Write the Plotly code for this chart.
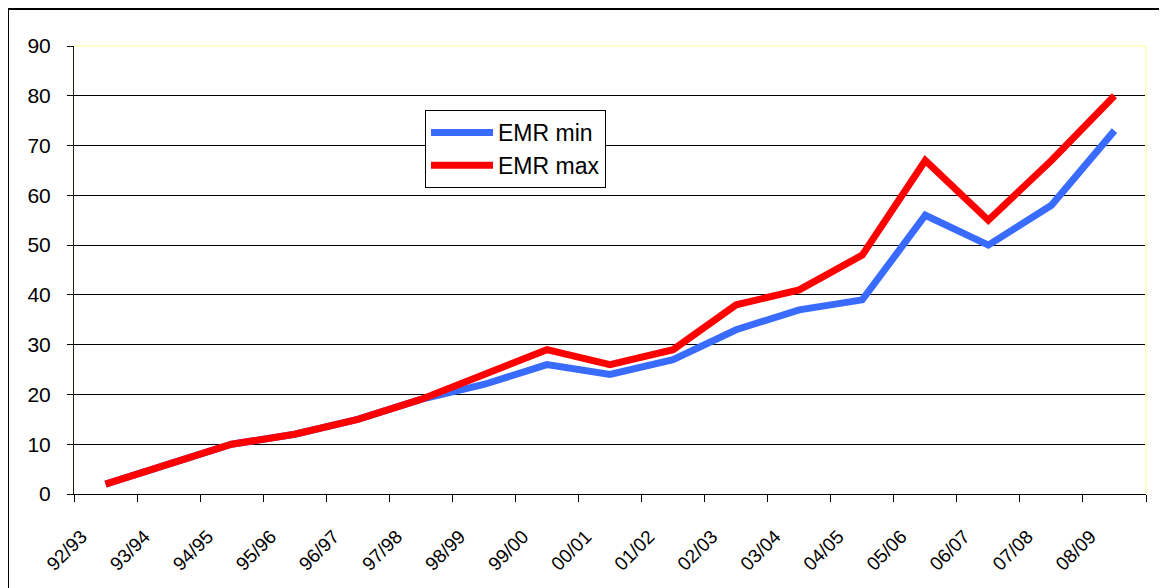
import plotly.graph_objects as go

categories = ["92/93", "93/94", "94/95", "95/96", "96/97", "97/98", "98/99", "99/00",
              "00/01", "01/02", "02/03", "03/04", "04/05", "05/06", "06/07", "07/08", "08/09"]
emr_min = [2, 6, 10, 12, 15, 19, 22, 26, 24, 27, 33, 37, 39, 56, 50, 58, 73]
emr_max = [2, 6, 10, 12, 15, 19, 24, 29, 26, 29, 38, 41, 48, 67, 55, 67, 80]
y_ticks = [0, 10, 20, 30, 40, 50, 60, 70, 80, 90]

FONT = "Liberation Sans, Arial, sans-serif"

fig = go.Figure()
fig.add_trace(go.Scatter(x=categories, y=emr_min, mode="lines", name="EMR min",
                         line=dict(color="#3A6BFF", width=7)))
fig.add_trace(go.Scatter(x=categories, y=emr_max, mode="lines", name="EMR max",
                         line=dict(color="#FF0000", width=7)))

OFF = 8  # page body margin
W, H = 1167, 588
L, T = 74 - OFF, 46 - OFF
R = W - (1146 - OFF)
B = H - (494 - OFF)
pw, ph = W - L - R, H - T - B

def px(x):
    return (x - OFF - L) / pw

def py(y):
    return (H - B - (y - OFF)) / ph

shapes = [
    dict(type="line", xref="paper", yref="paper", x0=0, x1=1, y0=1, y1=1,
         line=dict(color="#FFFFC8", width=2), layer="above"),
    dict(type="line", xref="paper", yref="paper", x0=1, x1=1, y0=0, y1=1,
         line=dict(color="#FFFFC8", width=2), layer="above"),
    dict(type="line", xref="paper", yref="paper", x0=px(8), x1=px(W + 20), y0=py(9), y1=py(9),
         line=dict(color="black", width=2)),
    dict(type="line", xref="paper", yref="paper", x0=px(8), x1=px(8), y0=py(9), y1=py(H + 20),
         line=dict(color="black", width=2)),
]

fig.update_layout(
    width=W, height=H,
    margin=dict(l=L, r=R, t=T, b=B),
    paper_bgcolor="white", plot_bgcolor="white",
    font=dict(family=FONT, color="black"),
    shapes=shapes,
    showlegend=True,
    legend=dict(x=px(425), y=py(110), xanchor="left", yanchor="top",
                bgcolor="white", bordercolor="black", borderwidth=1,
                font=dict(size=23, family=FONT), itemwidth=62,
                tracegroupgap=0),
    xaxis=dict(
        type="category", tickson="boundaries", ticks="outside", ticklen=7,
        tickcolor="black", tickwidth=1,
        showline=True, linecolor="black", linewidth=1, showgrid=False,
        tickangle=-45, tickfont=dict(size=19, family=FONT),
        ticklabelstandoff=23, ticklabelshift=-24,
        range=[-0.5, 16.5], fixedrange=True,
    ),
    yaxis=dict(
        range=[0, 90], tickvals=y_ticks, ticks="outside", ticklen=6,
        tickcolor="black", tickwidth=1,
        showline=True, linecolor="#222200", linewidth=1,
        showgrid=True, gridcolor="black", gridwidth=1,
        zeroline=False, tickfont=dict(size=21, family=FONT),
        ticklabelstandoff=12, fixedrange=True,
    ),
)

fig.write_html("out.html")
